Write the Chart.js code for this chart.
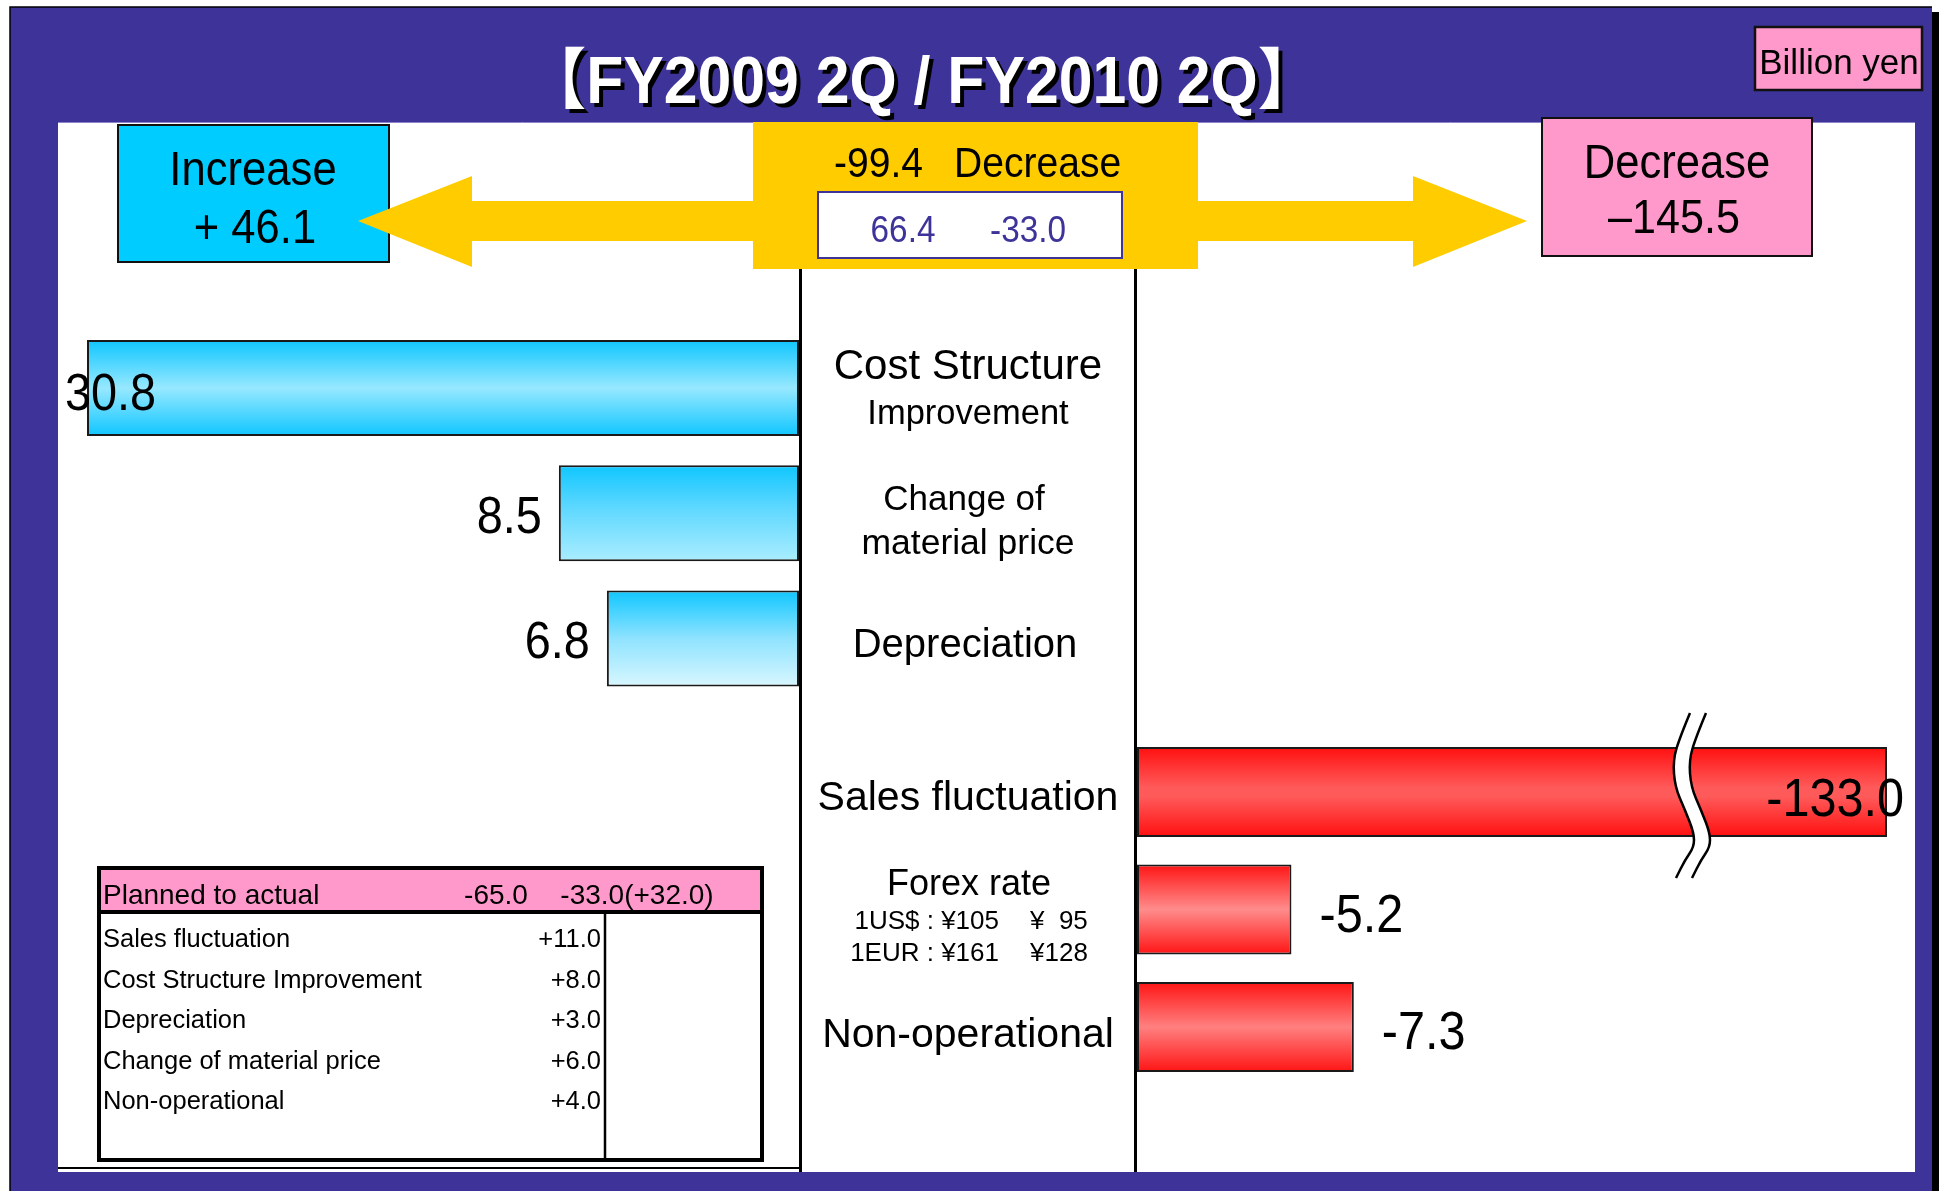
<!DOCTYPE html>
<html>
<head>
<meta charset="utf-8">
<title>FY2009 2Q / FY2010 2Q</title>
<script src="https://cdn.jsdelivr.net/npm/chart.js@4.4.1/dist/chart.umd.min.js"></script>
<style>
  html, body { margin: 0; padding: 0; background: #fff; }
  #wrap { position: relative; width: 1943px; height: 1191px; }
  canvas { position: absolute; left: 0; top: 0; }
</style>
</head>
<body>
<div id="wrap">
  <canvas id="incChart" width="1943" height="1191"></canvas>
  <canvas id="decChart" width="1943" height="1191"></canvas>
</div>
<script>
// increase factors (left side)
const incLabels = ['Cost Structure Improvement', 'Change of material price', 'Depreciation'];
const incValues = [30.8, 8.5, 6.8];
const incLines = [['Cost Structure', 'Improvement'], ['Change of', 'material price'], ['Depreciation']];

// decrease factors (right side)
const decLabels = ['Sales fluctuation', 'Forex rate', 'Non-operational'];
const decValues = [-133.0, -5.2, -7.3];

// header figures
const titleText = '【FY2009 2Q / FY2010 2Q】';
const unitText = 'Billion yen';
const totalIncrease = '+ 46.1';
const totalDecrease = '–145.5';
const netChange = '-99.4';
const netSplit = ['66.4', '-33.0'];

// forex rate FY2009 2Q -> FY2010 2Q
const forexRows = [['1US$ : ¥105', '¥  95'], ['1EUR : ¥161', '¥128']];

// planned to actual table
const planHeader = ['Planned to actual', '-65.0', '-33.0(+32.0)'];
const planItems = ['Sales fluctuation', 'Cost Structure Improvement', 'Depreciation', 'Change of material price', 'Non-operational'];
const planValues = ['+11.0', '+8.0', '+3.0', '+6.0', '+4.0'];

const PURPLE = '#3d3399';
const FONT = '"Liberation Sans", Arial, "Noto Sans CJK JP", sans-serif';

const incStops = [
    [[0, '#0fc6ff'], [0.5, '#97e8ff'], [1, '#0fc6ff']],
    [[0, '#0fc6ff'], [0.45, '#5fd8ff'], [1, '#aaedff']],
    [[0, '#0fc6ff'], [0.5, '#8fe3ff'], [1, '#d8f7ff']]
];
const decStops = [
    [[0, '#ff0f0f'], [0.45, '#ff5a5a'], [0.55, '#ff5a5a'], [1, '#ff0f0f']],
    [[0, '#ff1414'], [0.5, '#ff8c8c'], [1, '#ff1414']],
    [[0, '#ff1414'], [0.5, '#ff8080'], [1, '#ff1414']]
];
const BAR_RATIO = 0.767;

function txt(ctx, s, x, y, size, opt) {
    opt = opt || {};
    ctx.save();
    ctx.translate(x, y);
    ctx.scale(opt.sx || 1, 1);
    ctx.font = (opt.bold ? 'bold ' : '') + size + 'px ' + FONT;
    ctx.textAlign = opt.align || 'center';
    ctx.textBaseline = 'alphabetic';
    ctx.fillStyle = opt.color || '#000';
    ctx.fillText(s, 0, 0);
    ctx.restore();
}

function box(ctx, x1, y1, x2, y2, fill, stroke, lw) {
    ctx.fillStyle = fill;
    ctx.fillRect(x1, y1, x2 - x1, y2 - y1);
    if (stroke) {
        ctx.strokeStyle = stroke;
        ctx.lineWidth = lw;
        ctx.strokeRect(x1, y1, x2 - x1, y2 - y1);
    }
}

function barGradient(stopsList) {
    return function (c) {
        const chart = c.chart;
        const area = chart.chartArea;
        const stops = stopsList[c.dataIndex % stopsList.length];
        if (!area || !chart.scales.y) return stops[1][1];
        const mid = chart.scales.y.getPixelForValue(c.dataIndex);
        const half = area.height / chart.data.labels.length * BAR_RATIO / 2;
        const g = chart.ctx.createLinearGradient(0, mid - half, 0, mid + half);
        stops.forEach(s => g.addColorStop(s[0], s[1]));
        return g;
    };
}

// frame, header boxes, arrows, table
const backdrop = {
    id: 'backdrop',
    beforeDraw(chart) {
        const ctx = chart.ctx;
        ctx.save();
        ctx.fillStyle = '#000';
        ctx.fillRect(1931, 12, 8, 1179);
        ctx.fillStyle = PURPLE;
        ctx.fillRect(10, 7, 1922, 1184);
        ctx.strokeStyle = '#000';
        ctx.lineWidth = 1.5;
        ctx.beginPath();
        ctx.moveTo(10, 1191); ctx.lineTo(10, 7); ctx.lineTo(1932, 7);
        ctx.stroke();

        // white panel
        ctx.fillStyle = '#fff';
        ctx.fillRect(58, 122, 1857, 1050);
        ctx.strokeStyle = '#8c84c8';
        ctx.lineWidth = 1;
        ctx.beginPath(); ctx.moveTo(58, 122.5); ctx.lineTo(1915, 122.5); ctx.stroke();

        // Increase box
        box(ctx, 118, 125, 389, 262, '#00ccff', '#111', 2);
        txt(ctx, 'Increase', 253, 185, 49, { sx: 0.89 });
        txt(ctx, totalIncrease, 255, 243, 49, { sx: 0.89 });

        // yellow centre box + arrows
        ctx.fillStyle = '#ffcc00';
        ctx.fillRect(753, 122, 445, 147);
        ctx.beginPath();
        ctx.moveTo(358, 221); ctx.lineTo(472, 176); ctx.lineTo(472, 201); ctx.lineTo(760, 201);
        ctx.lineTo(760, 241); ctx.lineTo(472, 241); ctx.lineTo(472, 267); ctx.closePath();
        ctx.fill();
        ctx.beginPath();
        ctx.moveTo(1190, 201); ctx.lineTo(1413, 201); ctx.lineTo(1413, 176); ctx.lineTo(1527, 221);
        ctx.lineTo(1413, 267); ctx.lineTo(1413, 241); ctx.lineTo(1190, 241); ctx.closePath();
        ctx.fill();
        txt(ctx, netChange, 923, 177, 42, { align: 'right', sx: 0.93 });
        txt(ctx, 'Decrease', 954, 177, 42, { align: 'left', sx: 0.93 });
        box(ctx, 818, 192, 1122, 258, '#fff', PURPLE, 2);
        txt(ctx, netSplit[0], 903, 242, 37, { sx: 0.9, color: PURPLE });
        txt(ctx, netSplit[1], 1028, 242, 37, { sx: 0.9, color: PURPLE });

        // Decrease box
        box(ctx, 1542, 118, 1812, 256, '#ff99cc', '#111', 2);
        txt(ctx, 'Decrease', 1677, 178, 49, { sx: 0.89 });
        txt(ctx, totalDecrease, 1674, 233, 49, { sx: 0.88 });

        // unit box
        box(ctx, 1755, 27, 1922, 90, '#ff99cc', '#111', 2.5);
        txt(ctx, unitText, 1839, 74, 35);

        // title with drop shadow
        txt(ctx, titleText, 926, 107, 66, { bold: true, sx: 0.92, color: '#000' });
        txt(ctx, titleText, 922, 103, 66, { bold: true, sx: 0.92, color: '#fff' });

        // planned to actual table
        box(ctx, 99, 868, 762, 912, '#ff99cc');
        ctx.strokeStyle = '#000';
        ctx.lineWidth = 4;
        ctx.strokeRect(99, 868, 663, 292);
        ctx.beginPath(); ctx.moveTo(99, 912); ctx.lineTo(762, 912); ctx.stroke();
        ctx.lineWidth = 2.5;
        ctx.beginPath(); ctx.moveTo(605, 912); ctx.lineTo(605, 1160); ctx.stroke();
        txt(ctx, planHeader[0], 103, 904, 28, { align: 'left' });
        txt(ctx, planHeader[1], 496, 904, 28);
        txt(ctx, planHeader[2], 637, 904, 28);
        planItems.forEach((item, i) => {
            const y = 947 + i * 40.5;
            txt(ctx, item, 103, y, 25.5, { align: 'left' });
            txt(ctx, planValues[i], 601, y, 25.5, { align: 'right' });
        });
        ctx.restore();
    },
    afterDatasetsDraw(chart) {
        const ctx = chart.ctx;
        const area = chart.chartArea;
        const meta = chart.getDatasetMeta(0);
        ctx.save();
        meta.data.forEach((bar, i) => {
            if (bar.x < area.left) {
                ctx.strokeStyle = '#1a1a1a';
                ctx.lineWidth = 2;
                ctx.beginPath();
                ctx.moveTo(area.left + 1, bar.y - bar.height / 2);
                ctx.lineTo(area.left + 1, bar.y + bar.height / 2);
                ctx.stroke();
                txt(ctx, incValues[i].toFixed(1), area.left - 22, bar.y + 22, 52, { align: 'left', sx: 0.9 });
            } else {
                txt(ctx, incValues[i].toFixed(1), bar.x - 17, bar.y + 20, 52, { align: 'right', sx: 0.9 });
            }
        });
        // centre column labels
        const yS = chart.scales.y;
        const cx = 968;
        let y0 = yS.getPixelForValue(0);
        txt(ctx, incLines[0][0], cx, y0 - 9, 42);
        txt(ctx, incLines[0][1], cx, y0 + 36, 34.5);
        y0 = yS.getPixelForValue(1);
        txt(ctx, incLines[1][0], cx - 4, y0 - 3, 35);
        txt(ctx, incLines[1][1], cx, y0 + 41, 35.5);
        y0 = yS.getPixelForValue(2);
        txt(ctx, incLines[2][0], cx - 3, y0 + 19, 40);
        ctx.restore();
    },
    afterDraw(chart) {
        const ctx = chart.ctx;
        ctx.save();
        ctx.strokeStyle = '#000';
        ctx.lineWidth = 3;
        ctx.beginPath();
        ctx.moveTo(800.5, 269); ctx.lineTo(800.5, 1172);
        ctx.moveTo(1135.5, 269); ctx.lineTo(1135.5, 1172);
        ctx.stroke();
        ctx.lineWidth = 2;
        ctx.beginPath(); ctx.moveTo(58, 1168); ctx.lineTo(800, 1168); ctx.stroke();
        ctx.restore();
    }
};

// break mark, value labels and centre labels on the decrease side
const decDecor = {
    id: 'decDecor',
    afterDatasetsDraw(chart) {
        const ctx = chart.ctx;
        const area = chart.chartArea;
        const meta = chart.getDatasetMeta(0);
        ctx.save();
        meta.data.forEach((bar, i) => {
            const label = decValues[i].toFixed(1);
            if (bar.x > area.right) {
                ctx.strokeStyle = '#1a1a1a';
                ctx.lineWidth = 2;
                ctx.beginPath();
                ctx.moveTo(area.right - 1, bar.y - bar.height / 2);
                ctx.lineTo(area.right - 1, bar.y + bar.height / 2);
                ctx.stroke();
                // wavy break
                const bx = area.right - 204, by = bar.y;
                const pts = [[7, -79], [-3, -55], [-10, -32], [-8, -5], [2, 18], [11, 41], [11, 55], [2, 68], [-7, 86]];
                const curve = (dx, rev) => {
                    const p = rev ? pts.slice().reverse() : pts;
                    ctx.lineTo(bx + p[0][0] + dx, by + p[0][1]);
                    for (let k = 1; k < p.length - 1; k++) {
                        const mx = (p[k][0] + p[k + 1][0]) / 2, my = (p[k][1] + p[k + 1][1]) / 2;
                        ctx.quadraticCurveTo(bx + p[k][0] + dx, by + p[k][1], bx + mx + dx, by + my);
                    }
                    ctx.lineTo(bx + p[p.length - 1][0] + dx, by + p[p.length - 1][1]);
                };
                ctx.fillStyle = '#fff';
                ctx.beginPath();
                ctx.moveTo(bx + pts[0][0], by + pts[0][1]);
                curve(0, false);
                curve(16, true);
                ctx.closePath();
                ctx.fill();
                ctx.strokeStyle = '#000';
                ctx.lineWidth = 2.5;
                ctx.beginPath(); ctx.moveTo(bx + pts[0][0], by + pts[0][1]); curve(0, false); ctx.stroke();
                ctx.beginPath(); ctx.moveTo(bx + pts[0][0] + 16, by + pts[0][1]); curve(16, false); ctx.stroke();
                txt(ctx, label, area.right + 17, bar.y + 24, 54, { align: 'right', sx: 0.9 });
            } else {
                txt(ctx, label, bar.x + 28, bar.y + 22, 54, { align: 'left', sx: 0.9 });
            }
        });
        const yS = chart.scales.y;
        const cx = 968;
        let y0 = yS.getPixelForValue(0);
        txt(ctx, decLabels[0], cx, y0 + 18, 41);
        y0 = yS.getPixelForValue(1);
        txt(ctx, decLabels[1], cx + 1, y0 - 15, 36);
        forexRows.forEach((row, k) => {
            txt(ctx, row[0], 999, y0 + 19 + k * 32, 26, { align: 'right' });
            txt(ctx, row[1], 1030, y0 + 19 + k * 32, 26, { align: 'left' });
        });
        y0 = yS.getPixelForValue(2);
        txt(ctx, decLabels[2], cx, y0 + 20, 41);
        ctx.restore();
    }
};

const commonOptions = {
    responsive: false,
    animation: false,
    events: [],
    indexAxis: 'y',
    plugins: { legend: { display: false }, tooltip: { enabled: false }, title: { display: false } }
};

const incChart = new Chart(document.getElementById('incChart').getContext('2d'), {
    type: 'bar',
    data: {
        labels: incLabels,
        datasets: [{
            label: 'Increase',
            data: incValues,
            backgroundColor: barGradient(incStops),
            borderColor: '#1a1a1a',
            borderWidth: 2,
            borderSkipped: false,
            barPercentage: BAR_RATIO,
            categoryPercentage: 1,
            clip: { left: 0, right: false, top: false, bottom: false }
        }]
    },
    options: Object.assign({}, commonOptions, {
        layout: { padding: { left: 87, right: 1144, top: 325.5, bottom: 490 } },
        scales: {
            x: { display: false, min: 0, max: 25.2, reverse: true },
            y: { display: false }
        }
    }),
    plugins: [backdrop]
});

const decChart = new Chart(document.getElementById('decChart').getContext('2d'), {
    type: 'bar',
    data: {
        labels: decLabels,
        datasets: [{
            label: 'Decrease',
            data: decValues,
            backgroundColor: barGradient(decStops),
            borderColor: '#1a1a1a',
            borderWidth: 2,
            borderSkipped: false,
            barPercentage: BAR_RATIO,
            categoryPercentage: 1,
            clip: { left: false, right: 0, top: false, bottom: false }
        }]
    },
    options: Object.assign({}, commonOptions, {
        layout: { padding: { left: 1137, right: 56, top: 733.25, bottom: 105.25 } },
        scales: {
            x: { display: false, min: -25.25, max: 0, reverse: true },
            y: { display: false }
        }
    }),
    plugins: [decDecor]
});
</script>
</body>
</html>
